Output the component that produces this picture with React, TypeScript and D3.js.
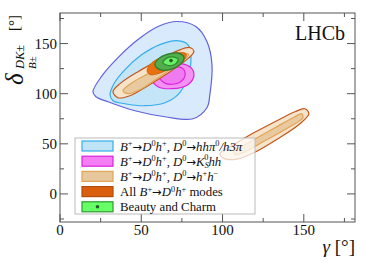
import React from 'react';
import * as d3 from 'd3';

const W = 374, H = 268;

// confidence regions as [gamma, delta] in degrees
const hhpi0Outer = [[20.3,102],[25.9,118],[35.7,136],[48,154],[60.3,167],[72,172],[83.6,167],[90.4,152],[93.5,129],[92.2,99],[90.4,86],[81.8,75],[64.6,77],[46.1,83],[29.5,92],[22.1,97]];
const hhpi0Inner = [[30.8,99],[33.2,110],[40,124],[50.4,139],[61.5,149],[72,153],[78.7,149],[80.6,136],[78.1,114],[72.6,99],[64.6,91],[52.3,88],[40,90],[32.6,93]];
const kshhOuter = [[56.6,114],[58.4,122],[64.6,128],[73.8,130],[80.6,126],[82.4,118],[78.7,109],[68.9,105],[60.3,107]];
const kshhInner = [[60.9,117],[63.3,124],[69.5,127],[75.6,125],[76.9,118],[73.2,111],[65.2,110]];
const hhOuterA = [[32.6,102],[36.9,110],[48,122],[61.5,134],[72.6,143],[80,146],[82.4,142],[78.7,135],[67.7,122],[54.1,108],[43,98],[35.7,96]];
const hhInnerA = [[38.7,103],[44.3,111],[55.4,121],[67.7,132],[76.9,140],[79.3,139],[74.6,132],[61.5,117],[49.2,104],[41.8,100]];
const hhOuterB = [[98.4,40],[105.8,48],[118.1,60],[132.2,72],[144.5,82],[150.7,85],[153.1,80],[147.6,70],[134.1,55],[120.5,42],[109.5,35],[101.5,35]];
const hhInnerB = [[107,42],[116.9,52],[132.2,66],[144.5,77],[148.8,80],[149.4,76],[141.4,67],[126,53],[113.7,42],[108.2,39]];
const allModes = [[53.5,123],[56.6,131],[63.3,137],[72,141],[77.5,140],[76.3,133],[68.9,126],[60.3,120],[55.4,119]];
const bcOuter = [[58.4,129],[61.5,136],[67.7,140],[73.8,140],[76.3,136],[73.8,129],[67.7,124],[61.5,124]];
const bcInner = [[63.3,131],[65.8,135.5],[70.1,136.5],[72.6,134.5],[71.3,130],[67,128]];
const bcBest = [68.3, 133];

const xMajor = [0, 50, 100, 150];
const xMinor = [25, 75, 125, 175];
const yMajor = [0, 50, 100, 150];
const yMinor = [-25, 25, 75, 125, 175];

// legend labels: [text, kind]  i=italic r=roman a=arrow sup=superscript sub=subscript supb=superscript stacked over sub
const legendLabels = [
  [['B','i'],['+','sup'],['\u2192','a'],['D','i'],['0','sup'],['h','i'],['+','sup'],[', ','r'],['D','i'],['0','sup'],['\u2192','a'],['hh\u03c0','i'],['0','sup'],['/h3\u03c0','i']],
  [['B','i'],['+','sup'],['\u2192','a'],['D','i'],['0','sup'],['h','i'],['+','sup'],[', ','r'],['D','i'],['0','sup'],['\u2192','a'],['K','i'],['S','sub'],['0','supb'],['hh','i']],
  [['B','i'],['+','sup'],['\u2192','a'],['D','i'],['0','sup'],['h','i'],['+','sup'],[', ','r'],['D','i'],['0','sup'],['\u2192','a'],['h','i'],['+','sup'],['h','i'],['\u2212','sup']],
  [['All ','r'],['B','i'],['+','sup'],['\u2192','a'],['D','i'],['0','sup'],['h','i'],['+','sup'],[' modes','r']],
  [['Beauty and Charm','r']],
];
const legendFill = ['#bfe3f7', '#f47ef4', '#e7c79d', '#d95f0e', '#66ff66'];
const legendStroke = ['#35aeea', '#dd22dd', '#e0a553', '#b44d0c', '#2f9a2f'];

const Label = ({segs}) => {
  let shift = 0;
  return segs.map(([t, k], i) => {
    const small = k === 'sup' || k === 'sub' || k === 'supb';
    const target = k === 'sup' ? -4.5 : k === 'supb' ? -5.5 : k === 'sub' ? 2 : 0;
    const dy = target - shift;
    shift = target;
    const dx = k === 'supb' ? -4.5 : 0;
    return (
      <tspan key={i} dy={dy} dx={dx}
        fontSize={small ? 8.3 : k === 'a' ? 11.5 : 12.8}
        fontFamily={k === 'a' ? "'DejaVu Sans', sans-serif" : undefined}
        fontStyle={k === 'i' || k === 'sub' ? 'italic' : 'normal'}>{t}</tspan>
    );
  });
};

export default () => {
  const x = d3.scaleLinear().domain([0, 181.5]).range([60, 355]);
  const y = d3.scaleLinear().domain([-28, 180.5]).range([222, 13]);
  const line = d3.line().x(d => x(d[0])).y(d => y(d[1])).curve(d3.curveCatmullRomClosed.alpha(0.5));

  const left = x.range()[0], right = x.range()[1], top = y.range()[1], bottom = y.range()[0];
  const axisColor = '#555';

  const region = (pts, fill, stroke, sw = 1.2) =>
    <path d={line(pts)} fill={fill} stroke={stroke} strokeWidth={sw} />;

  const lx = 75, ly = 138, rowH = 15.2;

  return (
    <svg width={W} height={H} style={{position: 'absolute', left: 0, top: 0}} fontFamily="'Liberation Serif', 'DejaVu Serif', serif">
      <rect width={W} height={H} fill="#fff" />

      {/* D -> hh pi0 / h3pi */}
      {region(hhpi0Outer, '#d8eafb', '#6262dc')}
      {region(hhpi0Inner, '#c4e4f8', '#35aeea')}

      {/* second hh solution */}
      {region(hhOuterB, '#f6e3cb', '#c2581c')}
      {region(hhInnerB, '#e9c9a0', '#e0a553')}

      {/* D -> KS hh */}
      {region(kshhOuter, '#f392f3', '#dd22dd')}
      {region(kshhInner, '#f07af0', '#dd22dd')}

      {/* D -> hh */}
      {region(hhOuterA, '#f6e3cb', '#c2581c')}
      {region(hhInnerA, '#e9c9a0', '#e0a553')}

      {/* all B -> D h modes */}
      {region(allModes, '#e8700f', '#d0600c', 0.8)}

      {/* beauty and charm */}
      {region(bcOuter, '#52ad4c', '#2d7a2d')}
      {region(bcInner, '#6af066', '#2d8a2d')}
      <circle cx={x(bcBest[0])} cy={y(bcBest[1])} r={1.8} fill="#2a5a2a" />

      {/* frame and ticks */}
      <rect x={left} y={top} width={right - left} height={bottom - top} fill="none" stroke={axisColor} strokeWidth={1} />
      {xMajor.concat(xMinor).map(v => {
        const len = xMajor.includes(v) ? 8 : 4;
        return (
          <g key={'x' + v} stroke={axisColor}>
            <line x1={x(v)} x2={x(v)} y1={bottom} y2={bottom - len} />
            <line x1={x(v)} x2={x(v)} y1={top} y2={top + len} />
          </g>
        );
      })}
      {yMajor.concat(yMinor).map(v => {
        const len = yMajor.includes(v) ? 8 : 4;
        return (
          <g key={'y' + v} stroke={axisColor}>
            <line x1={left} x2={left + len} y1={y(v)} y2={y(v)} />
            <line x1={right} x2={right - len} y1={y(v)} y2={y(v)} />
          </g>
        );
      })}
      {xMajor.map(v => (
        <text key={'xl' + v} x={x(v)} y={235} fontSize={15} textAnchor="middle" fill="#111">{v}</text>
      ))}
      {yMajor.map(v => (
        <text key={'yl' + v} x={57} y={y(v) + 5} fontSize={15} textAnchor="end" fill="#111">{v}</text>
      ))}

      {/* axis titles */}
      <text x={355} y={253} fontSize={19} textAnchor="end" fill="#111">
        <tspan fontStyle="italic">{'\u03b3'}</tspan> [°]
      </text>
      <g transform="rotate(-90)" fill="#111">
        <text x={-85} y={23} fontSize={25} fontStyle="italic">{'\u03b4'}</text>
        <text x={-69} y={24} fontSize={12.5} fontStyle="italic">DK<tspan fontStyle="normal">±</tspan></text>
        <text x={-69} y={36} fontSize={11} fontStyle="italic">B<tspan fontStyle="normal">±</tspan></text>
        <text x={-31} y={19} fontSize={15}>[°]</text>
      </g>

      <text x={345} y={40} fontSize={20} textAnchor="end" fill="#111">LHCb</text>

      {/* legend */}
      <rect x={lx} y={ly} width={180} height={76} fill="#fff" fillOpacity={0.72} stroke="#bbb" strokeWidth={1} />
      {legendLabels.map((segs, i) => {
        const cy = ly + 8 + i * rowH;
        return (
          <g key={'lg' + i}>
            <rect x={82} y={cy - 5} width={31} height={10} fill={legendFill[i]} stroke={legendStroke[i]} strokeWidth={1.2} />
            {i === 4 && <circle cx={97.5} cy={cy} r={1.8} fill="#2a5a2a" />}
            <text x={120} y={cy + 4.5} fill="#111"><Label segs={segs} /></text>
          </g>
        );
      })}
    </svg>
  );
};
